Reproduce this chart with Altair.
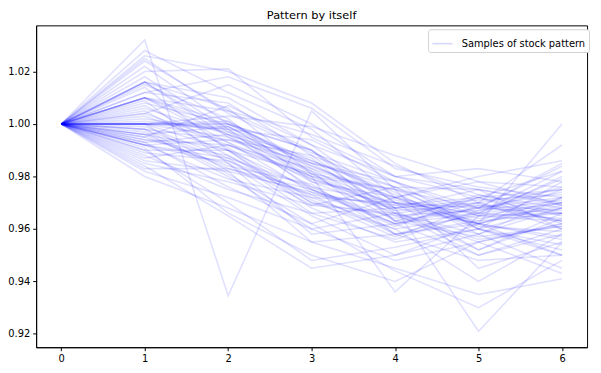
import altair as alt
import pandas as pd

steps = [0, 1, 2, 3, 4, 5, 6]
label = "Samples of stock pattern"
title_text = "Pattern by itself"
y_ticks = [0.92, 0.94, 0.96, 0.98, 1.00, 1.02]

samples = [
    [1.0, 1.032, 0.9345, 1.005, 0.975, 0.962, 0.970],
    [1.0, 1.028, 1.012, 0.998, 0.972, 0.960, 0.968],
    [1.0, 1.026, 1.020, 1.008, 0.985, 0.970, 0.975],
    [1.0, 1.024, 1.005, 0.990, 0.968, 0.975, 0.960],
    [1.0, 1.022, 1.000, 0.985, 0.978, 0.966, 0.982],
    [1.0, 1.020, 1.021, 0.995, 0.980, 0.972, 0.965],
    [1.0, 1.018, 0.998, 0.975, 0.962, 0.950, 0.958],
    [1.0, 1.016, 1.010, 0.992, 0.970, 0.968, 0.972],
    [1.0, 1.016, 0.995, 0.982, 0.958, 0.962, 0.950],
    [1.0, 1.015, 1.002, 0.978, 0.972, 0.980, 0.986],
    [1.0, 1.014, 0.990, 0.970, 0.965, 0.955, 0.962],
    [1.0, 1.012, 1.008, 0.988, 0.976, 0.960, 0.978],
    [1.0, 1.010, 0.999, 0.985, 0.968, 0.970, 0.963],
    [1.0, 1.010, 0.993, 0.980, 0.975, 0.945, 0.955],
    [1.0, 1.010, 1.005, 0.996, 0.984, 0.973, 0.968],
    [1.0, 1.009, 0.985, 0.965, 0.950, 0.958, 0.945],
    [1.0, 1.008, 1.000, 0.990, 0.963, 0.968, 0.974],
    [1.0, 1.006, 0.996, 0.976, 0.970, 0.952, 0.966],
    [1.0, 1.005, 0.988, 0.972, 0.960, 0.965, 0.980],
    [1.0, 1.004, 1.015, 1.000, 0.980, 0.975, 0.970],
    [1.0, 1.003, 0.992, 0.983, 0.972, 0.962, 0.957],
    [1.0, 1.001, 0.998, 0.994, 0.978, 0.968, 0.985],
    [1.0, 1.000, 1.000, 0.990, 0.970, 0.966, 0.964],
    [1.0, 1.000, 0.995, 0.978, 0.966, 0.970, 0.960],
    [1.0, 1.000, 1.000, 0.986, 0.974, 0.958, 0.972],
    [1.0, 1.000, 0.990, 0.968, 0.955, 0.960, 0.952],
    [1.0, 1.000, 1.003, 0.999, 0.988, 0.978, 0.976],
    [1.0, 1.000, 0.982, 0.974, 0.962, 0.968, 0.966],
    [1.0, 1.000, 0.998, 0.980, 0.936, 0.965, 0.963],
    [1.0, 0.999, 0.987, 0.966, 0.968, 0.921, 0.955],
    [1.0, 0.998, 0.994, 0.985, 0.976, 0.975, 0.969],
    [1.0, 0.997, 0.980, 0.960, 0.948, 0.955, 0.962],
    [1.0, 0.996, 0.999, 0.982, 0.969, 0.962, 1.000],
    [1.0, 0.996, 0.990, 0.975, 0.964, 0.972, 0.975],
    [1.0, 0.995, 0.984, 0.977, 0.958, 0.948, 0.950],
    [1.0, 0.995, 1.007, 0.992, 0.980, 0.983, 0.978],
    [1.0, 0.994, 0.988, 0.970, 0.960, 0.940, 0.958],
    [1.0, 0.993, 0.976, 0.962, 0.944, 0.930, 0.948],
    [1.0, 0.993, 0.996, 0.984, 0.972, 0.965, 0.966],
    [1.0, 0.992, 0.985, 0.958, 0.962, 0.970, 0.992],
    [1.0, 0.992, 0.994, 0.988, 0.966, 0.958, 0.968],
    [1.0, 0.992, 0.979, 0.972, 0.970, 0.962, 0.972],
    [1.0, 0.991, 0.966, 0.950, 0.940, 0.955, 0.943],
    [1.0, 0.990, 0.990, 0.981, 0.975, 0.968, 0.984],
    [1.0, 0.990, 0.970, 0.948, 0.953, 0.960, 0.950],
    [1.0, 0.989, 0.986, 0.973, 0.969, 0.972, 0.962],
    [1.0, 0.988, 0.975, 0.966, 0.956, 0.967, 0.976],
    [1.0, 0.987, 0.992, 0.980, 0.967, 0.952, 0.964],
    [1.0, 0.986, 0.982, 0.955, 0.945, 0.935, 0.941],
    [1.0, 0.985, 0.978, 0.969, 0.976, 0.965, 0.970],
    [1.0, 0.984, 0.965, 0.945, 0.950, 0.962, 0.956],
    [1.0, 0.983, 0.983, 0.975, 0.961, 0.972, 0.982],
    [1.0, 0.982, 0.972, 0.960, 0.966, 0.950, 0.960],
    [1.0, 0.980, 0.968, 0.955, 0.958, 0.963, 0.975],
    [1.0, 1.012, 1.018, 1.006, 0.983, 0.976, 0.972],
    [1.0, 1.025, 1.004, 0.989, 0.978, 0.960, 0.954],
    [1.0, 1.007, 0.991, 0.971, 0.957, 0.969, 0.967],
    [1.0, 0.998, 0.981, 0.962, 0.972, 0.978, 0.969],
    [1.0, 1.002, 0.997, 0.987, 0.963, 0.957, 0.961],
    [1.0, 0.994, 0.992, 0.979, 0.968, 0.971, 0.973],
    [1.0, 1.010, 1.001, 0.983, 0.965, 0.967, 0.971],
    [1.0, 1.016, 0.997, 0.979, 0.970, 0.963, 0.966],
    [1.0, 1.000, 0.999, 0.981, 0.967, 0.969, 0.963],
    [1.0, 0.992, 0.987, 0.976, 0.962, 0.966, 0.970],
    [1.0, 1.010, 0.996, 0.986, 0.973, 0.961, 0.959],
    [1.0, 1.000, 1.001, 0.984, 0.971, 0.964, 0.968],
    [1.0, 0.996, 0.983, 0.973, 0.958, 0.966, 0.979],
    [1.0, 1.016, 1.006, 0.981, 0.963, 0.973, 0.966],
    [1.0, 0.998, 0.986, 0.969, 0.966, 0.956, 0.961],
    [1.0, 1.004, 0.993, 0.974, 0.968, 0.962, 0.969],
]

rows = []
for i, s in enumerate(samples):
    for x, v in zip(steps, s):
        rows.append({"id": i, "step": x, "value": v, "series": label})
df = pd.DataFrame(rows)

FONT = "DejaVu Sans"

chart = alt.Chart(df).mark_line(opacity=0.12, strokeWidth=1.6).encode(
    x=alt.X("step:Q", scale=alt.Scale(domain=[-0.3, 6.3], nice=False, zero=False),
            axis=alt.Axis(values=steps, format="d", title=None)),
    y=alt.Y("value:Q", scale=alt.Scale(domain=[0.9149, 1.0376], nice=False, zero=False),
            axis=alt.Axis(values=y_ticks, format=".2f", title=None)),
    detail="id:N",
    color=alt.Color("series:N", scale=alt.Scale(range=["#0000ff"]),
                    legend=alt.Legend(title=None, orient="none", legendX=397, legendY=4,
                                      symbolType="stroke", symbolSize=420, symbolStrokeWidth=1.6,
                                      symbolOpacity=0.15, labelFontSize=10, labelFont=FONT,
                                      labelColor="#000000", strokeColor="#d0d0d0",
                                      fillColor="#ffffff", padding=3, cornerRadius=2,
                                      labelOffset=8)),
).properties(
    width=558,
    height=326,
    title=alt.TitleParams(title_text, fontSize=11.5, font=FONT, fontWeight="normal",
                          color="#000000", offset=3.5),
    autosize=alt.AutoSizeParams(type="none"),
    padding={"left": 28.5, "top": 15.3, "right": 6, "bottom": 16},
).configure_view(
    stroke="#000000", strokeWidth=1
).configure_axis(
    grid=False, domainColor="#000000", tickColor="#000000", tickSize=3.5,
    labelFontSize=10, labelFont=FONT, labelColor="#000000", labelPadding=3,
    domainWidth=1, tickWidth=1
)

chart.save("out.html", embed_options={"renderer": "svg", "actions": False})
